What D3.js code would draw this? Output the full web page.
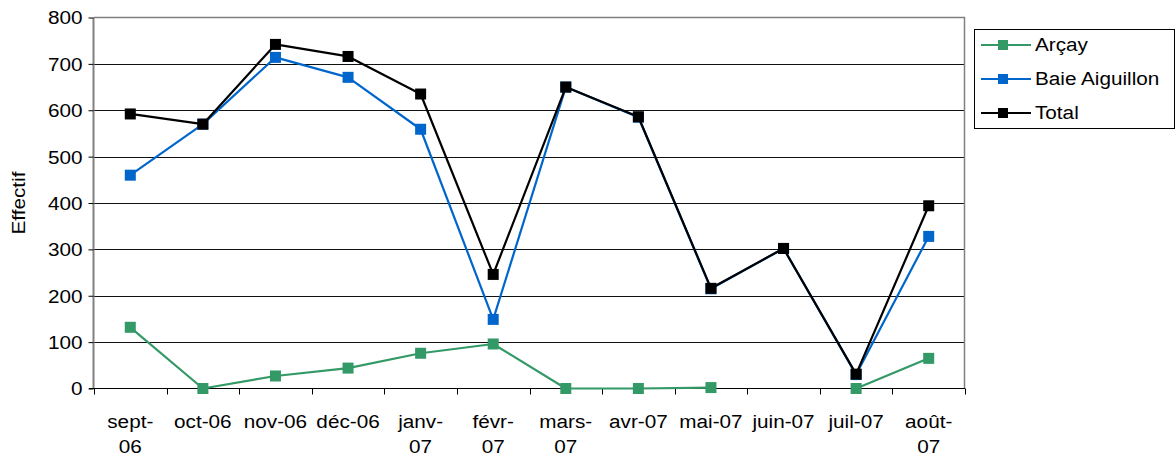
<!DOCTYPE html>
<html>
<head>
<meta charset="utf-8">
<script src="https://cdn.jsdelivr.net/npm/d3@7"></script>
<style>
  html, body { margin: 0; padding: 0; background: #fff; }
  svg { display: block; font-family: "Liberation Sans", Arial, sans-serif; }
</style>
</head>
<body>
<svg id="chart" width="1175" height="457"></svg>
<script>
// Monthly counts, Sept 2006 – Aug 2007
const months = ["sept-06", "oct-06", "nov-06", "déc-06", "janv-07", "févr-07",
                "mars-07", "avr-07", "mai-07", "juin-07", "juil-07", "août-07"];
// Axis labels as printed (long month names break after the hyphen)
const monthLabels = [["sept-", "06"], ["oct-06"], ["nov-06"], ["déc-06"], ["janv-", "07"], ["févr-", "07"],
                     ["mars-", "07"], ["avr-07"], ["mai-07"], ["juin-07"], ["juil-07"], ["août-", "07"]];
const arcay = [132, 0, 27, 44, 76, 96, 0, 0, 2, null, 0, 65];
const baieAiguillon = [460, 570, 714, 671, 559, 149, 650, 585, 215, 302, 30, 328];
const total = [592, 570, 742, 716, 635, 246, 650, 586, 216, 302, 31, 394];
const yTicks = [0, 100, 200, 300, 400, 500, 600, 700, 800];

const series = [
  { name: "Arçay", color: "#339966", values: arcay },
  { name: "Baie Aiguillon", color: "#0066CC", values: baieAiguillon },
  { name: "Total", color: "#000000", values: total }
];

const FONT = 18;
const WIDEN = 1.15;   // text is drawn slightly wide

// Stretch text horizontally around its anchor by WIDEN
function widen(el) {
  const len = el.getComputedTextLength();
  if (len > 0) {
    el.setAttribute("textLength", len * WIDEN);
    el.setAttribute("lengthAdjust", "spacingAndGlyphs");
  }
}

const svg = d3.select("#chart");
const plot = { left: 94, right: 965, top: 17.5, bottom: 388.5 };

const x = d3.scaleBand().domain(months).range([plot.left, plot.right]);
const y = d3.scaleLinear().domain([0, 800]).range([plot.bottom, plot.top]);

// Horizontal gridlines
svg.append("g")
  .selectAll("line")
  .data(yTicks.filter(d => d > 0 && d < 800))
  .join("line")
  .attr("x1", plot.left).attr("x2", plot.right)
  .attr("y1", d => Math.round(y(d)) + 0.5).attr("y2", d => Math.round(y(d)) + 0.5)
  .attr("stroke", "#111").attr("stroke-width", 1);

// Plot frame (top and right edges)
svg.append("path")
  .attr("d", `M${plot.left},${plot.top}H${plot.right - 0.5}V${plot.bottom}`)
  .attr("fill", "none").attr("stroke", "#808080").attr("stroke-width", 1.5);

// Y axis
const yAxis = svg.append("g")
  .attr("transform", `translate(${plot.left - 0.5},0)`)
  .call(d3.axisLeft(y).tickValues(yTicks).tickSize(5).tickPadding(6).tickFormat(d3.format("d")));
yAxis.attr("font-size", null).attr("font-family", null);
yAxis.select(".domain").attr("stroke", "#808080").attr("stroke-width", 2).attr("d", `M0,${plot.top}V${plot.bottom}`);
yAxis.selectAll(".tick line").attr("stroke", "#000");
yAxis.selectAll(".tick text")
  .attr("font-size", FONT).attr("fill", "#000").attr("dy", "0.36em")
  .each(function () { widen(this); });

// X axis with ticks at category boundaries
const xAxis = svg.append("g").attr("transform", `translate(0,${plot.bottom})`);
xAxis.append("line")
  .attr("x1", plot.left - 5).attr("x2", plot.right)
  .attr("stroke", "#000").attr("stroke-width", 1);
xAxis.selectAll("line.tick")
  .data(d3.range(months.length + 1))
  .join("line")
  .attr("class", "tick")
  .attr("x1", i => Math.round(plot.left + i * x.bandwidth()) + 0.5)
  .attr("x2", i => Math.round(plot.left + i * x.bandwidth()) + 0.5)
  .attr("y1", 0).attr("y2", 6)
  .attr("stroke", "#000");

// Category labels
xAxis.selectAll("text.cat")
  .data(months)
  .join("text")
  .attr("class", "cat")
  .attr("text-anchor", "middle")
  .attr("font-size", FONT)
  .attr("fill", "#000")
  .each(function (d, i) {
    const cx = x(d) + x.bandwidth() / 2;
    d3.select(this).selectAll("tspan")
      .data(monthLabels[i])
      .join("tspan")
      .attr("x", cx)
      .attr("y", (l, j) => 39 + j * 25)
      .text(l => l)
      .each(function () { widen(this); });
  });

// Y axis title
svg.append("text")
  .attr("transform", `translate(25,${(plot.top + plot.bottom) / 2}) rotate(-90)`)
  .attr("text-anchor", "middle")
  .attr("font-size", FONT)
  .text("Effectif")
  .each(function () { widen(this); });

// Lines and square markers
const line = d3.line()
  .defined(d => d != null)
  .x((d, i) => x(months[i]) + x.bandwidth() / 2)
  .y(d => y(d));

const ms = 11;
series.forEach(s => {
  const g = svg.append("g");
  g.append("path")
    .attr("d", line(s.values))
    .attr("fill", "none")
    .attr("stroke", s.color)
    .attr("stroke-width", 2.2)
    .attr("stroke-linejoin", "round");
  g.selectAll("rect")
    .data(s.values.map((v, i) => ({ v, i })).filter(d => d.v != null))
    .join("rect")
    .attr("x", d => x(months[d.i]) + x.bandwidth() / 2 - ms / 2)
    .attr("y", d => y(d.v) - ms / 2)
    .attr("width", ms).attr("height", ms)
    .attr("fill", s.color);
});

// Legend
const legend = svg.append("g");
legend.append("rect")
  .attr("x", 974.5).attr("y", 29.5).attr("width", 200).attr("height", 99)
  .attr("fill", "#fff").attr("stroke", "#000").attr("stroke-width", 1);
series.forEach((s, i) => {
  const cy = 45 + i * 34;
  legend.append("line")
    .attr("x1", 981).attr("x2", 1031).attr("y1", cy).attr("y2", cy)
    .attr("stroke", s.color).attr("stroke-width", 2.2);
  legend.append("rect")
    .attr("x", 1003 - 5).attr("y", cy - 5).attr("width", 10).attr("height", 10)
    .attr("fill", s.color);
  legend.append("text")
    .attr("x", 1035).attr("y", cy).attr("dy", "0.36em")
    .attr("font-size", FONT)
    .text(s.name)
    .each(function () { widen(this); });
});
</script>
</body>
</html>
